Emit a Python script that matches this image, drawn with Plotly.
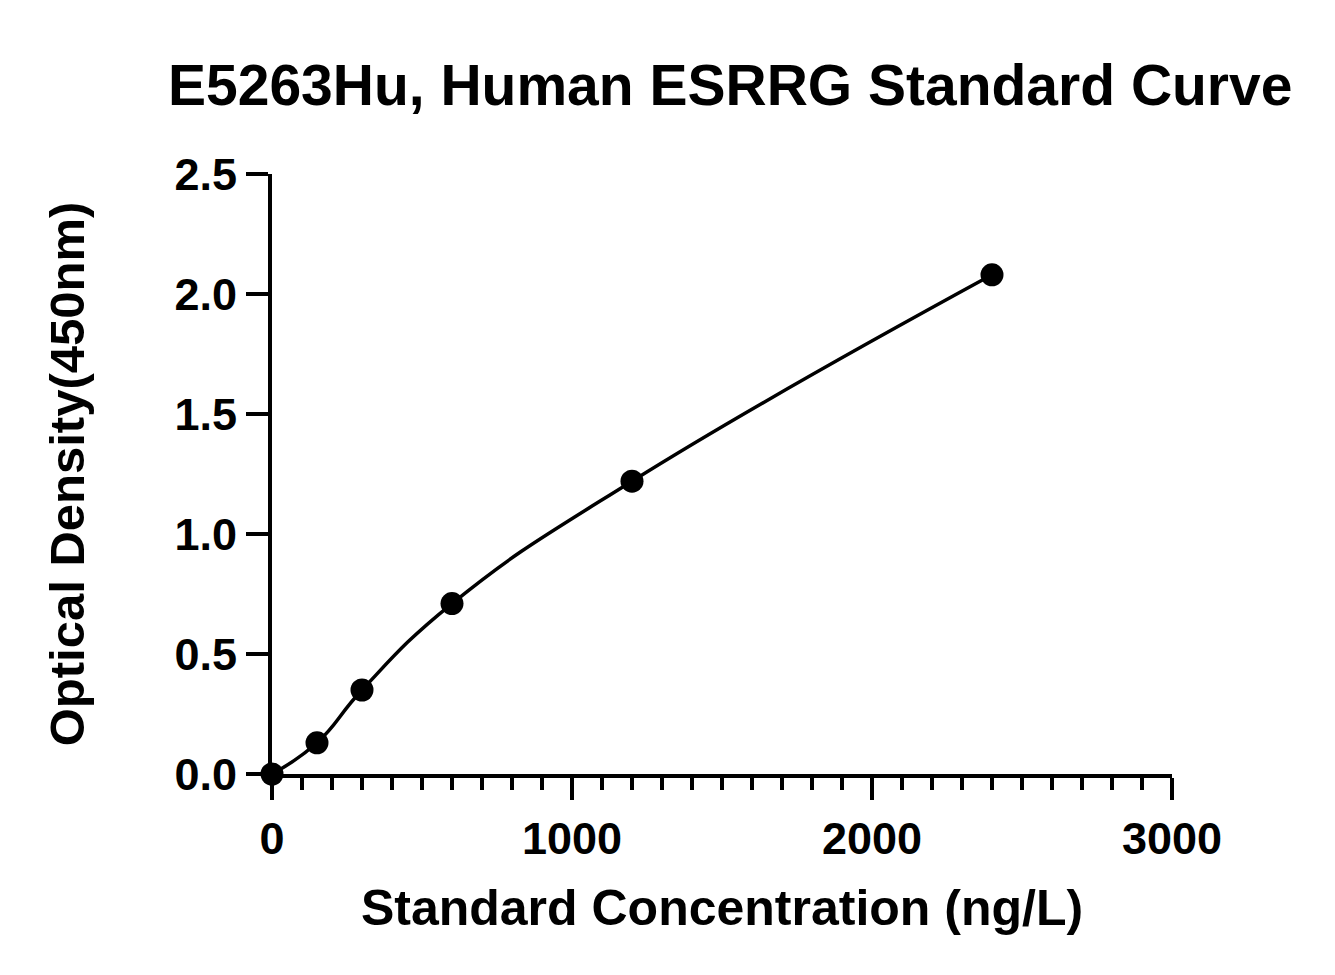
import plotly.graph_objects as go

# standard curve data
concentration = [0, 150, 300, 600, 1200, 2400]
od_450 = [0.0, 0.13, 0.35, 0.71, 1.22, 2.08]

FONT = "Liberation Sans, Arial, sans-serif"

fig = go.Figure()

# fitted curve (smooth through the standards)
fig.add_trace(go.Scatter(
    x=concentration, y=od_450,
    mode="lines", line=dict(color="black", width=3.5, shape="spline", smoothing=1.3),
    cliponaxis=False, showlegend=False, hoverinfo="skip"))

# standards
fig.add_trace(go.Scatter(
    x=concentration, y=od_450,
    mode="markers", marker=dict(color="black", size=23),
    cliponaxis=False, showlegend=False))

axis_common = dict(
    showgrid=False, zeroline=False, showline=True, linecolor="black", linewidth=4,
    ticks="outside", tickwidth=4, tickcolor="black", ticklen=22, automargin=False,
    tickfont=dict(family=FONT, size=45, color="black", weight="bold"),
)

fig.update_xaxes(
    range=[0, 3000], tickvals=[0, 1000, 2000, 3000],
    minor=dict(dtick=100, ticks="outside", ticklen=12, tickwidth=4, tickcolor="black"),
    title=dict(text="<b>Standard Concentration (ng/L)</b>",
               font=dict(family=FONT, size=50, color="black"), standoff=28),
    **axis_common)

fig.update_yaxes(
    range=[0, 2.5], tickvals=[0, 0.5, 1.0, 1.5, 2.0, 2.5], tickformat=".1f",
    title=dict(text="<b>Optical Density(450nm)</b>",
               font=dict(family=FONT, size=49, color="black"), standoff=75),
    **axis_common)

fig.update_layout(
    width=1335, height=975,
    margin=dict(l=264, r=171, t=166, b=209),
    plot_bgcolor="white", paper_bgcolor="white",
    title=dict(text="<b>E5263Hu, Human ESRRG Standard Curve</b>",
               font=dict(family=FONT, size=57, color="black"),
               x=0.541, xanchor="center", y=0.921, yanchor="middle"),
)

fig.write_html("out.html")
